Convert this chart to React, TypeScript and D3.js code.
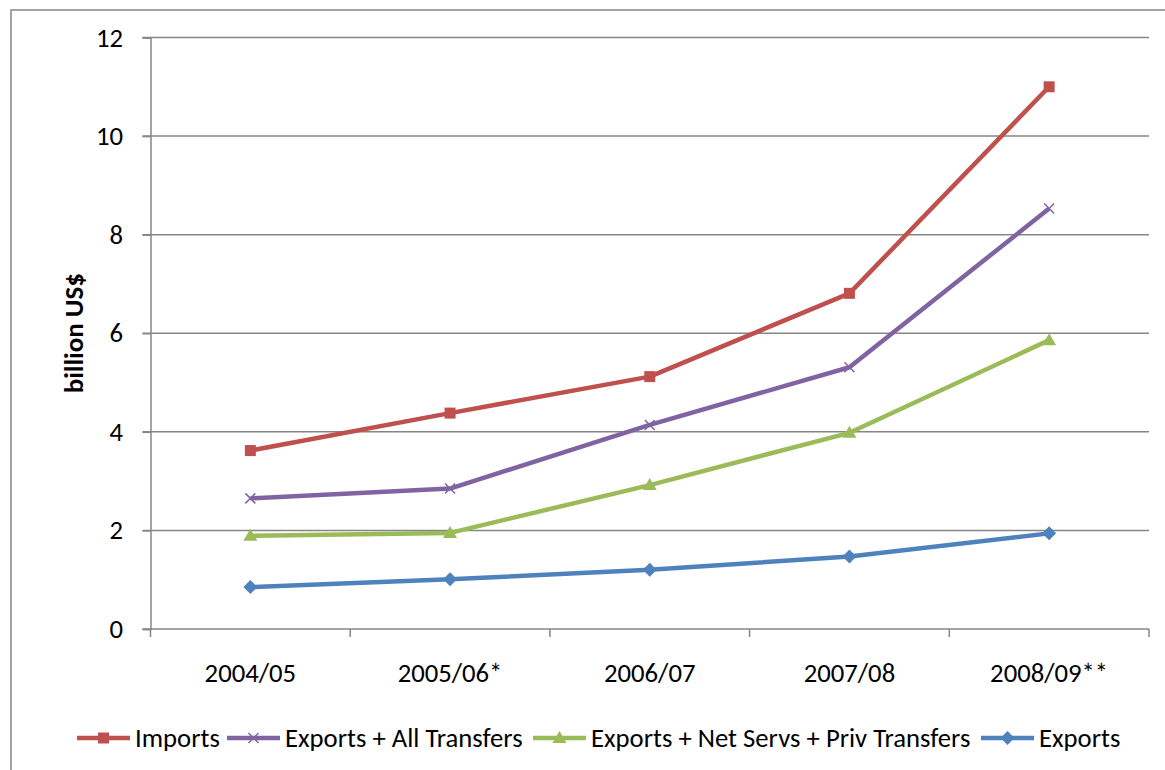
import React, { useEffect, useRef } from 'react';
import * as d3 from 'd3';

const years = ['2004/05', '2005/06*', '2006/07', '2007/08', '2008/09**'];
const imports = [3.62, 4.38, 5.12, 6.81, 11.0];
const exportsAllTransfers = [2.65, 2.85, 4.14, 5.31, 8.53];
const exportsNetServs = [1.89, 1.95, 2.92, 3.98, 5.86];
const exportsOnly = [0.85, 1.01, 1.2, 1.47, 1.94];
const yTicks = [0, 2, 4, 6, 8, 10, 12];

const series = [
  { name: 'Imports', values: imports, color: '#C0504D', marker: 'square' },
  { name: 'Exports + All Transfers', values: exportsAllTransfers, color: '#8064A2', marker: 'x' },
  { name: 'Exports + Net Servs + Priv Transfers', values: exportsNetServs, color: '#9BBB59', marker: 'triangle' },
  { name: 'Exports', values: exportsOnly, color: '#4F81BD', marker: 'diamond' },
];

const FONT = 'Carlito, Lato, "Open Sans", sans-serif';
const WIDTH = 1165;
const HEIGHT = 770;
const FS = '26.7px';

const App: React.FC = () => {
  const svgRef = useRef<SVGSVGElement>(null);

  useEffect(() => {
    if (!svgRef.current) return;
    const svg = d3.select(svgRef.current);
    svg.selectAll('*').remove();

    const left = 150.5, right = 1149, top = 37.5, bottom = 629;
    const grid = '#868686';

    // chart area border (runs off the right and bottom edge)
    svg.append('rect')
      .attr('x', 11).attr('y', 10)
      .attr('width', WIDTH + 20).attr('height', HEIGHT + 20)
      .attr('fill', 'white').attr('stroke', grid).attr('stroke-width', 1.5);

    const x = d3.scaleBand<string>().domain(years).range([left, right]).padding(0);
    const y = d3.scaleLinear().domain([0, 12]).range([bottom, top]);

    // gridlines
    svg.append('g').selectAll('line')
      .data(yTicks.filter(t => t > 0))
      .enter().append('line')
      .attr('x1', left - 8).attr('x2', right)
      .attr('y1', d => y(d)).attr('y2', d => y(d))
      .attr('stroke', grid).attr('stroke-width', 1.5);

    // y axis
    const yAxis = d3.axisLeft(y).tickValues(yTicks).tickSize(8).tickPadding(19.5);
    const gy = svg.append('g').attr('transform', `translate(${left},0)`).call(yAxis);
    gy.select('.domain').attr('stroke', grid).attr('stroke-width', 1.5);
    gy.selectAll('.tick line').attr('stroke', grid).attr('stroke-width', 1.5);
    gy.selectAll('.tick text')
      .attr('fill', '#000').style('font-family', FONT).style('font-size', FS);

    // x axis with ticks at band boundaries
    const gx = svg.append('g');
    gx.append('line')
      .attr('x1', left - 8).attr('x2', right)
      .attr('y1', bottom).attr('y2', bottom)
      .attr('stroke', grid).attr('stroke-width', 1.5);
    const boundaries = years.map(d => x(d) as number).concat([right]);
    gx.selectAll('.xt').data(boundaries).enter().append('line')
      .attr('x1', d => d).attr('x2', d => d)
      .attr('y1', bottom).attr('y2', bottom + 8)
      .attr('stroke', grid).attr('stroke-width', 1.5);
    gx.selectAll('.xl').data(years).enter().append('text')
      .attr('x', d => (x(d) as number) + x.bandwidth() / 2)
      .attr('y', 673)
      .attr('dy', '0.35em')
      .attr('text-anchor', 'middle')
      .style('font-family', FONT).style('font-size', FS)
      .text(d => d);

    // y title
    svg.append('text')
      .attr('transform', `translate(74,${(top + bottom) / 2}) rotate(-90)`)
      .attr('text-anchor', 'middle')
      .attr('dy', '0.35em')
      .style('font-family', FONT).style('font-size', '27px').style('font-weight', 'bold')
      .text('billion US$');

    const cx = (d: string) => (x(d) as number) + x.bandwidth() / 2;

    const drawMarker = (g: d3.Selection<SVGGElement, unknown, null, undefined>, kind: string, color: string, px: number, py: number) => {
      if (kind === 'square') {
        g.append('rect').attr('x', px - 5.5).attr('y', py - 5.5).attr('width', 11).attr('height', 11).attr('fill', color);
      } else if (kind === 'diamond') {
        g.append('path').attr('d', `M${px},${py - 7}L${px + 7},${py}L${px},${py + 7}L${px - 7},${py}Z`).attr('fill', color);
      } else if (kind === 'triangle') {
        g.append('path').attr('d', `M${px},${py - 7}L${px + 7},${py + 5}L${px - 7},${py + 5}Z`).attr('fill', color);
      } else {
        g.append('path').attr('d', `M${px - 5},${py - 5}L${px + 5},${py + 5}M${px - 5},${py + 5}L${px + 5},${py - 5}`)
          .attr('stroke', color).attr('stroke-width', 1.5).attr('fill', 'none');
      }
    };

    const line = d3.line<number>()
      .x((_, i) => cx(years[i]))
      .y(d => y(d));

    series.forEach(s => {
      const g = svg.append('g');
      g.append('path')
        .attr('d', line(s.values) as string)
        .attr('fill', 'none').attr('stroke', s.color)
        .attr('stroke-width', 4.5).attr('stroke-linejoin', 'round');
      s.values.forEach((v, i) => drawMarker(g, s.marker, s.color, cx(years[i]), y(v)));
    });

    // legend
    const legendY = 738;
    const legendX = [77, 227, 533, 981];
    series.forEach((s, i) => {
      const g = svg.append('g');
      const lx = legendX[i];
      g.append('line')
        .attr('x1', lx).attr('x2', lx + 53)
        .attr('y1', legendY).attr('y2', legendY)
        .attr('stroke', s.color).attr('stroke-width', 4.5);
      drawMarker(g, s.marker, s.color, lx + 26.5, legendY);
      g.append('text')
        .attr('x', lx + 58).attr('y', legendY)
        .attr('dy', '0.35em')
        .style('font-family', FONT).style('font-size', FS)
        .text(s.name);
    });
  }, []);

  return (
    <div style={{ position: 'absolute', left: 0, top: 0 }}>
      <svg ref={svgRef} width={WIDTH} height={HEIGHT} style={{ display: 'block' }} />
    </div>
  );
};

export default App;
